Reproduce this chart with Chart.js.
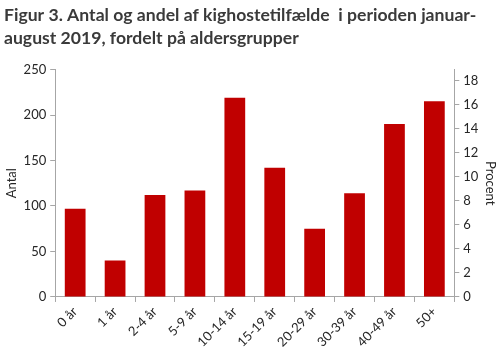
<!DOCTYPE html>
<html lang="da">
<head>
    <meta charset="UTF-8">
    <title>Kighoste</title>
    <style>
        body { margin: 0; background: #fff; }
        #wrap { width: 500px; height: 354px; }
    </style>
</head>
<body>
    <div id="wrap">
        <canvas id="myChart"></canvas>
    </div>

    <script src="https://cdn.jsdelivr.net/npm/chart.js"></script>

    <script>
        // Aldersgrupper og antal tilfælde
        const ageGroups = ['0 år', '1 år', '2-4 år', '5-9 år', '10-14 år', '15-19 år', '20-29 år', '30-39 år', '40-49 år', '50+'];
        const counts = [97, 40, 112, 117, 219, 142, 75, 114, 190, 215];
        const countTicks = [0, 50, 100, 150, 200, 250];
        const percentTicks = [0, 2, 4, 6, 8, 10, 12, 14, 16, 18];

        const total = counts.reduce((a, b) => a + b, 0);
        const axisColor = '#a6a6a6';
        const textColor = '#262626';
        const font = { family: 'Lato', size: 13 };

        new Chart(document.getElementById('myChart'), {
            type: 'bar',
            data: {
                labels: ageGroups,
                datasets: [{
                    data: counts,
                    backgroundColor: '#c00000',
                    barPercentage: 0.52,
                    categoryPercentage: 1,
                    yAxisID: 'y'
                }]
            },
            options: {
                responsive: true,
                maintainAspectRatio: false,
                animation: false,
                layout: { padding: { left: 4, right: 2, top: 0, bottom: 2 } },
                plugins: {
                    legend: { display: false },
                    tooltip: { enabled: false },
                    title: {
                        display: true,
                        align: 'start',
                        text: ['Figur 3. Antal og andel af kighostetilfælde  i perioden januar-', 'august 2019, fordelt på aldersgrupper'],
                        color: '#3a3a3a',
                        font: { family: 'Lato', size: 17.6, weight: 'bold', lineHeight: 1.35 },
                        padding: { top: 3, bottom: 19 }
                    }
                },
                scales: {
                    x: {
                        offset: true,
                        grid: { offset: true, drawOnChartArea: false, drawTicks: true, tickLength: 5, color: axisColor },
                        border: { color: axisColor },
                        ticks: { color: textColor, font: font, minRotation: 45, maxRotation: 45, padding: 2 }
                    },
                    y: {
                        position: 'left',
                        min: 0,
                        max: 250,
                        afterBuildTicks: axis => { axis.ticks = countTicks.map(v => ({ value: v })); },
                        grid: { drawOnChartArea: false, tickLength: 5, color: axisColor },
                        border: { color: axisColor },
                        ticks: { color: textColor, font: font, padding: 4 },
                        title: { display: true, text: 'Antal', color: textColor, font: font, padding: 0 }
                    },
                    y2: {
                        position: 'right',
                        min: 0,
                        max: 250 / total * 100,
                        afterBuildTicks: axis => { axis.ticks = percentTicks.map(v => ({ value: v })); },
                        grid: { drawOnChartArea: false, tickLength: 5, color: axisColor },
                        border: { color: axisColor },
                        ticks: { color: textColor, font: font, padding: 4 },
                        title: { display: true, text: 'Procent', color: textColor, font: font, padding: 0 }
                    }
                }
            }
        });
    </script>
</body>
</html>
